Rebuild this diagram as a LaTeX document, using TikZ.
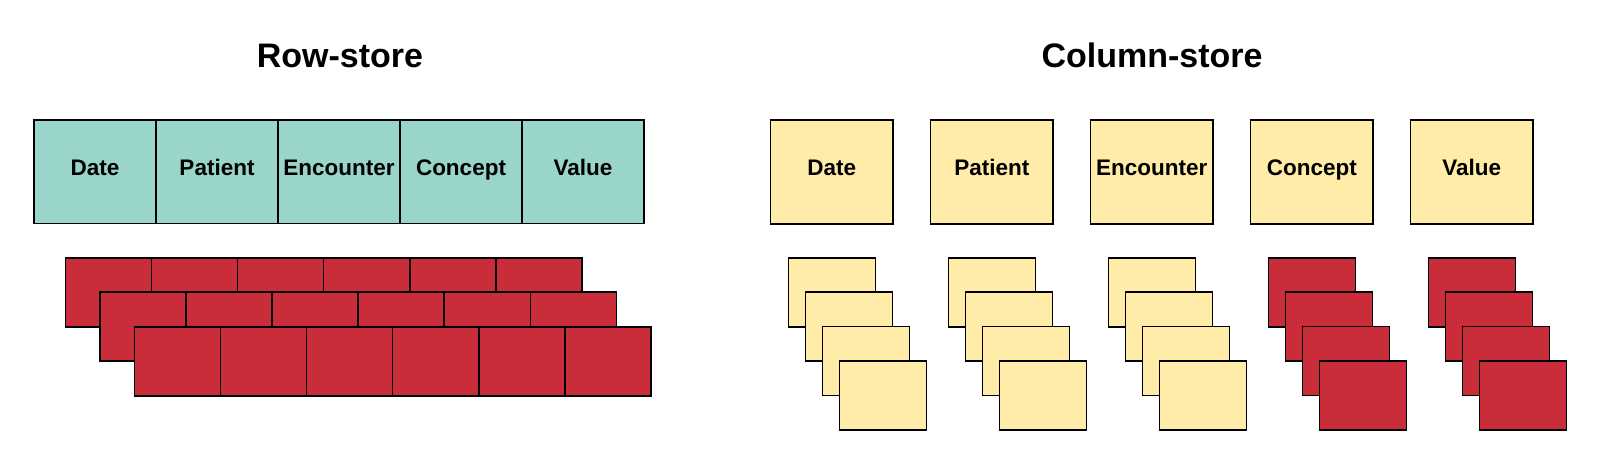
\documentclass[tikz,border=0pt]{standalone}
\usepackage{fontspec}
\setmainfont{Liberation Sans}
\definecolor{tealfill}{HTML}{99D5CA}
\definecolor{yelfill}{HTML}{FFECA9}
\definecolor{redfill}{HTML}{C92D39}
\begin{document}
\begin{tikzpicture}[x=1pt,y=-1pt,
  box/.style={draw=black, line width=1.6pt, rectangle, inner sep=0pt, outer sep=0pt, anchor=north west},
  hdr/.style={box, font=\bfseries\fontsize{22.5}{27}\selectfont, text height=16pt, text depth=8.5pt},
  small/.style={box, minimum width=87pt, minimum height=69pt},
  title/.style={font=\bfseries\fontsize{34}{40}\selectfont, anchor=base, inner sep=0pt}]
\useasboundingbox (0,0) rectangle (1600,465);
% titles
\node[title] (trow) at (340,68) {Row-store};
\node[title] (tcol) at (1152,68) {Column-store};
% row-store header
\foreach \t [count=\i from 0] in {Date,Patient,Encounter,Concept,Value}
  \node[hdr, fill=tealfill, minimum width=122pt, minimum height=103.5pt] (rh\i) at ({34+122*\i},120) {\t};
% row-store records
\foreach \r in {0,1,2}
  \foreach \c in {0,...,5}
    \node[box, fill=redfill, minimum width=86.1pt, minimum height=69pt] (rr\r-\c) at ({65.3+34.5*\r+86.1*\c},{257.7+34.5*\r}) {};
% column-store headers
\foreach \t [count=\i from 0] in {Date,Patient,Encounter,Concept,Value}
  \node[hdr, fill=yelfill, minimum width=122.5pt, minimum height=104pt] (ch\i) at ({770.5+160*\i},120) {};
\foreach \t [count=\i from 0] in {Date,Patient,Encounter,Concept,Value}
  \node[font=\bfseries\fontsize{22.5}{27}\selectfont, text height=16pt, text depth=8.5pt, inner sep=0pt] (cl\i) at (ch\i.center) {\t};
% column-store stacks
\foreach \i/\col in {0/yelfill,1/yelfill,2/yelfill,3/redfill,4/redfill}
  \foreach \k in {0,...,3}
    \node[small, fill=\col] (cs\i-\k) at ({788.3+160*\i+17*\k},{257.7+34.4*\k}) {};
\end{tikzpicture}
\end{document}
